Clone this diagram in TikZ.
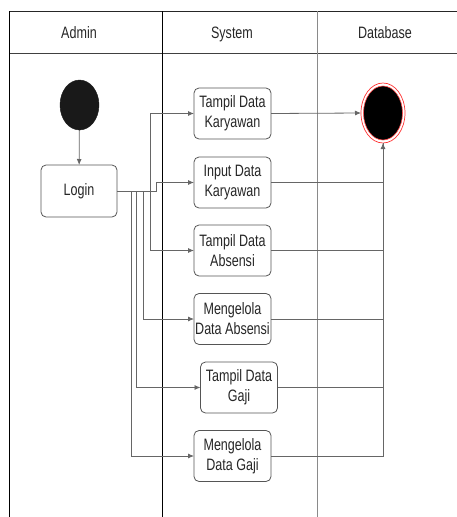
\documentclass[tikz,border=0pt]{standalone}
\usepackage{fontspec}
\setmainfont[FakeStretch=0.76]{Liberation Sans}
\usetikzlibrary{shapes.geometric,arrows.meta}
\definecolor{txt}{HTML}{262626}
\definecolor{wire}{HTML}{666666}
\definecolor{boxline}{HTML}{555555}
\definecolor{lane}{HTML}{8A8A8A}
\begin{document}
\begin{tikzpicture}[x=1pt,y=-1pt,
  every node/.style={font=\fontsize{16.5}{20}\selectfont, text=txt},
  actbox/.style={draw=boxline, line width=0.8pt, rounded corners=5pt, fill=white,
    minimum width=77pt, minimum height=51pt, inner sep=1pt, align=center, outer sep=0pt},
  flow/.style={draw=wire, line width=0.8pt},
  tip/.style={-{Latex[length=6pt,width=5pt]}, draw=wire, line width=0.8pt},
  headtext/.style={anchor=base, inner sep=0pt}]
\useasboundingbox (0,0) rectangle (457,517);

% swimlane frame
\draw[line width=0.8pt, draw=black!85] (9.5,11) -- (457,11);
\draw[line width=0.8pt, draw=black!75] (9.5,53.5) -- (457,53.5);
\draw[line width=0.9pt, draw=black] (9.5,11) -- (9.5,517);
\draw[line width=0.9pt, draw=black] (162,11) -- (162,517);
\draw[line width=0.9pt, draw=lane] (317,11) -- (317,517);

% lane titles
\node[headtext] (hAdmin) at (79,38.5) {Admin};
\node[headtext] (hSystem) at (232,38.5) {System};
\node[headtext] (hDb) at (385,38.5) {Database};

% start and final states
\node[ellipse, fill=black!90, draw=black!90, minimum width=39pt, minimum height=50pt,
  inner sep=0pt, outer sep=0pt] (start) at (79.5,105) {};
\node[ellipse, draw=red!80, line width=0.7pt, fill=white, minimum width=44pt,
  minimum height=60pt, inner sep=0pt, outer sep=0pt] (stop) at (383,113) {};
\node[ellipse, draw=red!70, line width=0.6pt, fill=black, minimum width=39pt,
  minimum height=54pt, inner sep=0pt] (stopcore) at (stop) {};

% activities
\node[actbox, minimum width=76pt, minimum height=52pt] (login) at (79,191) {Login};
\node[actbox] (t1) at (232.5,113.5) {Tampil Data\\Karyawan};
\node[actbox] (t2) at (232.5,182.5) {Input Data\\Karyawan};
\node[actbox] (t3) at (232.5,250.5) {Tampil Data\\Absensi};
\node[actbox] (t4) at (232.5,319) {Mengelola\\Data Absensi};
\node[actbox] (t5) at (239,387.5) {Tampil Data\\Gaji};
\node[actbox] (t6) at (232.5,456) {Mengelola\\Data Gaji};

% flow from start
\draw[tip] (start) -- (login);

% branches out of Login
\draw[tip] (login.east) -- ++(33,0) |- (t1.west);
\draw[tip] (login.east) -- ++(39,0) |- (t2.west);
\draw[tip] (login.east) -- ++(33,0) |- (t3.west);
\draw[tip] (login.east) -- ++(26,0) |- (t4.west);
\draw[tip] (login.east) -- ++(19,0) |- (t5.west);
\draw[tip] (login.east) -- ++(14,0) |- (t6.west);

% flows into the final state
\draw[tip] (t1.east) -- (stop.west);
\draw[tip] (t2.east) -| (stop.south);
\draw[flow] (t3.east) -| (stop.south);
\draw[flow] (t4.east) -| (stop.south);
\draw[flow] (t5.east) -| (stop.south);
\draw[flow] (t6.east) -| (stop.south);
\end{tikzpicture}
\end{document}
